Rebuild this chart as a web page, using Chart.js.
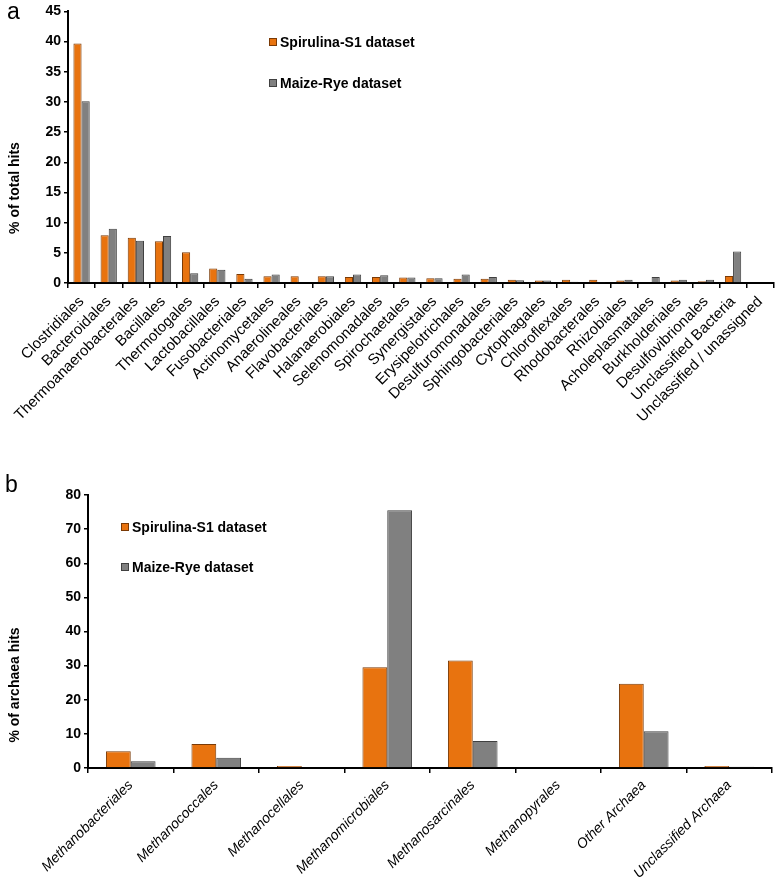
<!DOCTYPE html>
<html><head><meta charset="utf-8">
<script src="https://cdn.jsdelivr.net/npm/chart.js@4.4.0/dist/chart.umd.min.js"></script>
<style>
html,body{margin:0;padding:0;background:#fff;width:778px;height:881px;overflow:hidden;position:relative}
#ca{position:absolute;left:0;top:0}
#cb{position:absolute;left:0;top:460px}
</style></head><body>
<canvas id="ca" width="778" height="440"></canvas>
<canvas id="cb" width="778" height="421"></canvas>
<script>
const FONT = "'Liberation Sans', Arial, sans-serif";

// ---------- Panel a data ----------
const bacteriaOrders = ["Clostridiales","Bacteroidales","Thermoanaerobacterales","Bacillales","Thermotogales","Lactobacillales","Fusobacteriales","Actinomycetales","Anaerolineales","Flavobacteriales","Halanaerobiales","Selenomonadales","Spirochaetales","Synergistales","Erysipelotrichales","Desulfuromonadales","Sphingobacteriales","Cytophagales","Chloroflexales","Rhodobacterales","Rhizobiales","Acholeplasmatales","Burkholderiales","Desulfovibrionales","Unclassified Bacteria","Unclassified / unassigned"];
const spirulinaBacteria = [39.7,7.9,7.5,6.9,5.1,2.4,1.5,1.1,1.1,1.1,1.0,1.0,0.9,0.8,0.7,0.7,0.55,0.4,0.55,0.55,0.4,0,0.4,0.3,1.15,0];
const maizeBacteria     = [30.1,9.0,7.0,7.8,1.6,2.2,0.7,1.4,0,1.1,1.4,1.3,0.9,0.8,1.4,1.0,0.45,0.4,0.2,0.1,0.55,1.0,0.55,0.55,5.2,0];
const yTicksA = {min:0, max:45, step:5};

// ---------- Panel b data ----------
const archaeaOrders = ["Methanobacteriales","Methanococcales","Methanocellales","Methanomicrobiales","Methanosarcinales","Methanopyrales","Other Archaea","Unclassified Archaea"];
const spirulinaArchaea = [4.9,7.0,0.6,29.5,31.5,0,24.7,0.6];
const maizeArchaea     = [2.0,3.0,0,75.5,7.9,0,10.8,0.4];
const yTicksB = {min:0, max:80, step:10};

const seriesNames = ["Spirulina-S1 dataset","Maize-Rye dataset"];
const ORANGE = '#E8730F', ORANGE_B = '#7A3A06';
const GREY = '#808080', GREY_B = '#404040';

function overlay(cfg){
  return { id:'ov'+cfg.letter, afterDraw(chart){
    const ctx = chart.ctx;
    ctx.save();
    ctx.fillStyle = '#000';
    ctx.font = '23px ' + FONT;
    ctx.textBaseline = 'alphabetic';
    ctx.fillText(cfg.letter, cfg.lx, cfg.ly);
    ctx.translate(cfg.tx, cfg.ty);
    ctx.rotate(-Math.PI/2);
    ctx.font = 'bold 14px ' + FONT;
    ctx.textAlign = 'center'; ctx.textBaseline = 'middle';
    ctx.fillText(cfg.title, 0, 0);
    ctx.restore();
    chart.data.datasets.forEach((ds,i)=>{
      const L = cfg.legend[i];
      ctx.save();
      ctx.fillStyle = ds.backgroundColor;
      ctx.fillRect(L.x, L.y-4, 8, 8);
      ctx.strokeStyle = ds.borderColor; ctx.lineWidth = 1;
      ctx.strokeRect(L.x+0.5, L.y-3.5, 7, 7);
      ctx.fillStyle = '#000';
      ctx.font = 'bold 14px ' + FONT;
      ctx.textBaseline = 'middle';
      ctx.fillText(ds.label, L.x+11, L.y+1);
      ctx.restore();
    });
  }};
}

function makeChart(id, labels, s1, s2, yt, opts){
  return new Chart(document.getElementById(id), {
    type:'bar',
    data:{ labels, datasets:[
      {label:seriesNames[0], data:s1, backgroundColor:ORANGE, borderColor:ORANGE_B, borderWidth:1, categoryPercentage:opts.cp, barPercentage:1},
      {label:seriesNames[1], data:s2, backgroundColor:GREY, borderColor:GREY_B, borderWidth:1, categoryPercentage:opts.cp, barPercentage:1}
    ]},
    options:{
      responsive:false, animation:false,
      layout:{padding:{top:opts.top, right:opts.right, left:0, bottom:0}},
      plugins:{legend:{display:false}, tooltip:{enabled:false}},
      scales:{
        x:{
          grid:{display:true, drawOnChartArea:false, drawTicks:true, tickLength:5, offset:true, color:'#000', lineWidth:1.5},
          border:{display:true, color:'#000', width:2},
          ticks:{autoSkip:false, minRotation:45, maxRotation:45, color:'#000', padding:opts.tp,
                 font:{family:FONT, size:opts.fs, style:opts.italic?'italic':'normal'}},
          afterFit(s){ s.height = opts.xh; }
        },
        y:{
          min:yt.min, max:yt.max,
          grid:{display:true, drawOnChartArea:false, drawTicks:true, tickLength:4, color:'#000', lineWidth:1.5},
          border:{display:true, color:'#000', width:2},
          ticks:{stepSize:yt.step, color:'#000', padding:3, font:{family:FONT, size:14, weight:'bold'}},
          afterFit(s){ s.width = opts.yw; }
        }
      }
    },
    plugins:[overlay(opts.ov)]
  });
}

makeChart('ca', bacteriaOrders, spirulinaBacteria, maizeBacteria, yTicksA,
  {cp:0.6, top:9, right:4, xh:157, yw:68, italic:false, fs:15, tp:5,
   ov:{letter:'a', lx:7, ly:19, title:'% of total hits', tx:15, ty:188,
       legend:[{x:269,y:42},{x:269,y:83}]}});

makeChart('cb', archaeaOrders, spirulinaArchaea, maizeArchaea, yTicksB,
  {cp:0.58, top:35, right:6, xh:113, yw:88, italic:true, fs:14, tp:4,
   ov:{letter:'b', lx:5, ly:32, title:'% of archaea hits', tx:15, ty:225,
       legend:[{x:121,y:67},{x:121,y:107}]}});
</script>
</body></html>
